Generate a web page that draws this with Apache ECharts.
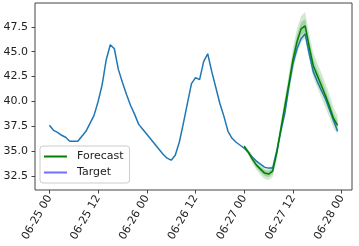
<!DOCTYPE html>
<html><head><meta charset="utf-8">
<script src="https://cdn.jsdelivr.net/npm/echarts@6/dist/echarts.min.js"></script>
<style>html,body{margin:0;padding:0;background:#fff}#c{width:359px;height:246px}</style>
</head><body><div id="c"></div>
<script>
// hours since 06-25 00
const xTickHours = [0, 12, 24, 36, 48, 60, 72];
const xTickLabels = ['06-25 00', '06-25 12', '06-26 00', '06-26 12', '06-27 00', '06-27 12', '06-28 00'];
const yTickValues = [32.5, 35.0, 37.5, 40.0, 42.5, 45.0, 47.5];

const targetStartHour = 0;
const targetValues = [
  37.6, 37.1, 36.9, 36.6, 36.4, 36.0, 36.0, 36.0, 36.5, 37.0, 37.8, 38.6,
  40.0, 41.7, 44.2, 45.7, 45.3, 43.2, 41.9, 40.7, 39.6, 38.7, 37.7, 37.2,
  36.7, 36.2, 35.7, 35.2, 34.7, 34.3, 34.1, 34.6, 35.9, 37.8, 39.8, 41.8,
  42.4, 42.2, 44.0, 44.8, 43.0, 41.4, 39.8, 38.5, 37.0, 36.3, 35.9, 35.6,
  35.3, 34.9, 34.4, 34.0, 33.7, 33.4, 33.3, 33.3, 35.0, 37.0, 38.8, 41.5,
  43.8, 45.3, 46.3, 46.8, 44.8, 43.0, 42.0, 41.1, 40.3, 39.2, 38.1, 37.0
];

const forecastStartHour = 48;
const forecastMedian = [
  35.5, 34.9, 34.2, 33.6, 33.2, 32.8, 32.7, 33.0, 34.8, 37.2, 39.5, 41.8,
  44.2, 46.0, 47.3, 47.6, 45.5, 43.6, 42.6, 41.6, 40.6, 39.5, 38.3, 37.6
];
const outerLower = [
  35.3, 34.6, 33.8, 33.1, 32.6, 32.2, 32.1, 32.4, 34.1, 36.4, 38.6, 40.8,
  43.0, 44.7, 46.0, 46.3, 44.3, 42.4, 41.4, 40.4, 39.4, 38.4, 37.3, 36.7
];
const outerUpper = [
  35.7, 35.2, 34.6, 34.1, 33.7, 33.4, 33.3, 33.6, 35.5, 38.0, 40.4, 42.8,
  45.4, 47.3, 48.6, 49.0, 46.8, 44.9, 43.9, 42.9, 41.8, 40.7, 39.4, 38.6
];
const innerLower = [
  35.4, 34.75, 34.0, 33.35, 32.9, 32.5, 32.4, 32.7, 34.45, 36.8, 39.05, 41.3,
  43.6, 45.35, 46.65, 46.95, 44.9, 43.0, 42.0, 41.0, 40.0, 38.95, 37.8, 37.15
];
const innerUpper = [
  35.6, 35.05, 34.4, 33.85, 33.45, 33.1, 33.0, 33.3, 35.15, 37.6, 39.95, 42.3,
  44.8, 46.65, 47.95, 48.3, 46.15, 44.25, 43.2, 42.2, 41.2, 40.05, 38.8, 38.05
];

const tgt = targetValues.map((v, i) => [targetStartHour + i, v]);
const fh = i => forecastStartHour + i;
const med = forecastMedian.map((v, i) => [fh(i), v]);
const outerData = outerLower.map((v, i) => [fh(i), v, outerUpper[i]]);
const innerData = innerLower.map((v, i) => [fh(i), v, innerUpper[i]]);

function bandSeries(name, data, color) {
  return {
    name: name, type: 'custom', data: data, silent: true, z: 1,
    encode: {x: 0, y: [1, 2]},
    renderItem: function (params, api) {
      if (params.dataIndex !== 0) return null;
      const top = [], bot = [];
      for (let i = 0; i < data.length; i++) {
        top.push(api.coord([data[i][0], data[i][2]]));
        bot.push(api.coord([data[i][0], data[i][1]]));
      }
      const pts = top.concat(bot.reverse());
      return {type: 'polygon', shape: {points: pts}, style: {fill: color, stroke: null}};
    }
  };
}

const font = 'DejaVu Sans';
const chart = echarts.init(document.getElementById('c'), null, {renderer: 'canvas'});
chart.setOption({
  animation: false,
  backgroundColor: '#fff',
  grid: {left: 35, right: 7, top: 3, bottom: 56, show: true, borderColor: '#444', borderWidth: 1, backgroundColor: 'transparent'},
  xAxis: {
    type: 'value', min: -3.55, max: 74.55,
    axisLine: {show: false, onZero: false},
    splitLine: {show: false},
    axisTick: {show: true, inside: false, length: 3.5, customValues: xTickHours, lineStyle: {color: '#444'}},
    axisLabel: {
      customValues: xTickHours, rotate: 60, margin: 6,
      fontFamily: font, fontSize: 11, color: '#222',
      formatter: v => xTickLabels[xTickHours.indexOf(v)] || ''
    }
  },
  yAxis: {
    type: 'value', min: 31.1, max: 49.9,
    axisLine: {show: false, onZero: false},
    splitLine: {show: false},
    axisTick: {show: true, inside: false, length: 3.5, customValues: yTickValues, lineStyle: {color: '#444'}},
    axisLabel: {
      customValues: yTickValues, margin: 7,
      fontFamily: font, fontSize: 11, color: '#222',
      formatter: v => v.toFixed(1)
    }
  },
  legend: {
    orient: 'vertical', left: 40, top: 146,
    padding: [5, 6, 5, 4], itemGap: 5,
    itemWidth: 23, itemHeight: 2, icon: 'rect',
    borderColor: '#ccc', borderWidth: 1, borderRadius: 3,
    backgroundColor: 'rgba(255,255,255,0.8)',
    textStyle: {fontFamily: font, fontSize: 11, color: '#222', padding: [0, 0, 0, 5]},
    data: [
      {name: 'Forecast', itemStyle: {color: '#008000'}},
      {name: 'Target', itemStyle: {color: '#7070ff'}}
    ]
  },
  series: [
    bandSeries('outerBand', outerData, 'rgba(0,128,0,0.18)'),
    bandSeries('innerBand', innerData, 'rgba(0,128,0,0.22)'),
    {name: 'Target', type: 'line', data: tgt, symbol: 'none', color: '#1f77b4', z: 3, lineStyle: {width: 1.5, color: '#1f77b4'}},
    {name: 'Forecast', type: 'line', data: med, symbol: 'none', color: '#008000', z: 4, lineStyle: {width: 1.5, color: '#008000'}}
  ]
});
</script>
</body></html>
